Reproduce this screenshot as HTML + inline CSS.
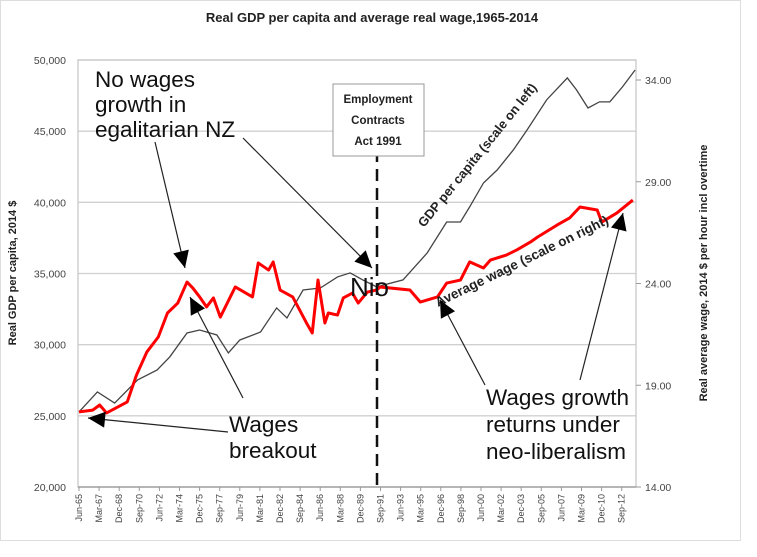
<!DOCTYPE html>
<html><head><meta charset="utf-8"><style>
html,body{margin:0;padding:0;background:#fff;}
svg{display:block;font-family:"Liberation Sans",sans-serif;}
</style></head><body>
<svg id="chart" width="757" height="557" viewBox="0 0 757 557">
<rect x="0.5" y="0.5" width="740" height="540" fill="#fff" stroke="#ddd"/>
<text x="372" y="22" text-anchor="middle" font-size="13" font-weight="bold" fill="#222">Real GDP per capita and average real wage,1965-2014</text>
<g id="grid"></g>
<g id="leftTicks"></g>
<g id="rightTicks"></g>
<g id="xTicks"></g>
<text transform="translate(16,273) rotate(-90)" text-anchor="middle" font-size="11" font-weight="bold" fill="#222">Real GDP per capita, 2014 $</text>
<text transform="translate(707,273) rotate(-90)" text-anchor="middle" font-size="11" font-weight="bold" fill="#222">Real average wage, 2014 $ per hour incl overtime</text>
<line x1="377" y1="150" x2="377" y2="487" stroke="#111" stroke-width="2.5" stroke-dasharray="12,7"/>
<g id="series"></g>
<rect x="333" y="84" width="91" height="72" fill="#fff" stroke="#999"/>
<text font-size="11.5" font-weight="bold" fill="#222" text-anchor="middle"><tspan x="378" y="103">Employment</tspan><tspan x="378" y="124">Contracts</tspan><tspan x="378" y="145">Act 1991</tspan></text>
<text transform="translate(424,228) rotate(-51)" font-size="13" font-weight="bold" fill="#222">GDP per capita (scale on left)</text>
<text transform="translate(438,307) rotate(-26)" font-size="13.5" font-weight="bold" fill="#222">Average wage (scale on right)</text>
<g font-size="22.5" fill="#111">
<text><tspan x="95" y="87">No wages</tspan><tspan x="95" y="112">growth in</tspan><tspan x="95" y="137">egalitarian NZ</tspan></text>
<text x="350" y="296" font-size="26">Nio</text>
<text><tspan x="229" y="432">Wages</tspan><tspan x="229" y="458">breakout</tspan></text>
<text><tspan x="486" y="405">Wages growth</tspan><tspan x="486" y="432">returns under</tspan><tspan x="486" y="459">neo-liberalism</tspan></text>
</g>
<g id="arrows" stroke="#222" stroke-width="1.2" fill="none"></g>
</svg>
<script>
const gdpYears=[1965.5,1967.1,1968.6,1970.6,1972.3,1973.4,1974.9,1976.0,1977.5,1978.5,1979.5,1981.3,1982.7,1983.6,1985.0,1986.5,1988.0,1989.1,1990.2,1991.4,1993.7,1995.8,1997.5,1998.7,1999.5,2000.7,2001.9,2003.3,2004.5,2006.2,2008.0,2008.8,2009.8,2010.8,2011.7,2012.8,2013.9];
const gdpValues=[25270,26680,25900,27520,28220,29140,30820,31030,30680,29420,30330,30890,32580,31880,33840,33980,34760,35040,34550,34060,34550,36440,38620,38620,39680,41360,42280,43680,45090,47200,48740,47900,46630,47060,47060,48110,49300];
const wageYears=[1965.5,1966.7,1967.3,1967.9,1969.7,1970.5,1971.4,1972.4,1973.2,1974.1,1974.9,1975.4,1976.0,1976.6,1977.2,1977.8,1979.1,1980.6,1981.1,1982.0,1982.4,1983.0,1984.1,1985.3,1985.8,1986.3,1986.9,1987.2,1988.0,1988.5,1989.3,1989.8,1990.6,1991.4,1991.7,1994.3,1995.2,1996.7,1997.5,1998.7,1999.5,2000.7,2001.3,2002.7,2003.6,2004.8,2005.4,2007.1,2008.2,2009.1,2010.6,2011.0,2012.3,2013.7];
const wageValues=[17.69,17.78,18.03,17.64,18.18,19.5,20.63,21.37,22.55,23.04,24.07,23.78,23.34,22.85,23.29,22.35,23.83,23.34,25.01,24.66,25.06,23.68,23.34,22.06,21.57,24.17,22.06,22.55,22.45,23.29,23.53,23.04,23.58,23.68,23.83,23.68,23.09,23.34,24.02,24.17,25.06,24.76,25.15,25.4,25.65,26.04,26.28,26.87,27.22,27.76,27.61,27.02,27.46,28.1];
const leftTickValues=[20000,25000,30000,35000,40000,45000,50000];
const leftTickLabels=["20,000","25,000","30,000","35,000","40,000","45,000","50,000"];
const rightTickValues=[14,19,24,29,34];
const rightTickLabels=["14.00","19.00","24.00","29.00","34.00"];
const xTickLabels=["Jun-65","Mar-67","Dec-68","Sep-70","Jun-72","Mar-74","Dec-75","Sep-77","Jun-79","Mar-81","Dec-82","Sep-84","Jun-86","Mar-88","Dec-89","Sep-91","Jun-93","Mar-95","Dec-96","Sep-98","Jun-00","Mar-02","Dec-03","Sep-05","Jun-07","Mar-09","Dec-10","Sep-12"];

const NS="http://www.w3.org/2000/svg";
const PL=78,PR=636,PT=60,PB=487;
const xOf=yr=>79+(yr-1965.5)*11.49;
const yL=v=>PB-(v-20000)*(PB-PT)/30000;
const yR=v=>PB-(v-14)*20.35;
function mk(tag,attrs,parent){const e=document.createElementNS(NS,tag);for(const k in attrs)e.setAttribute(k,attrs[k]);parent.appendChild(e);return e;}
const grid=document.getElementById('grid');
leftTickValues.forEach((v,i)=>{
  const g=mk('line',{x1:PL,x2:PR,y1:yL(v),y2:yL(v),stroke:'#d0d0d0','stroke-width':1.3},grid);
  
  
  const t=mk('text',{x:66,y:yL(v)+4,'text-anchor':'end','font-size':10.5,fill:'#444'},document.getElementById('leftTicks'));
  t.textContent=leftTickLabels[i];
  
  
});
mk('rect',{x:PL,y:PT,width:PR-PL,height:PB-PT,fill:'none',stroke:'#c8c8c8','stroke-width':1.3},grid);
rightTickValues.forEach((v,i)=>{
  mk('line',{x1:PR,x2:PR+5,y1:yR(v),y2:yR(v),stroke:'#999'},document.getElementById('rightTicks'));
  const t=mk('text',{x:645,y:yR(v)+4,'font-size':10.5,fill:'#444'},document.getElementById('rightTicks'));
  t.textContent=rightTickLabels[i];
  
  
});
const xt=document.getElementById('xTicks');
mk('line',{x1:PL,x2:PR,y1:PB,y2:PB,stroke:'#999','stroke-width':1.3},xt);
xTickLabels.forEach((lab,i)=>{
  const x=79+i*20.1;
  mk('line',{x1:x,x2:x,y1:PB,y2:PB+4,stroke:'#999'},xt);
  const t=mk('text',{transform:`translate(${x+3},${PB+7}) rotate(-90)`,'text-anchor':'end','font-size':9,fill:'#444'},xt);
  t.textContent=lab;
  
  
});
const ser=document.getElementById('series');
const gp=mk('polyline',{points:gdpYears.map((y,i)=>xOf(y)+','+yL(gdpValues[i])).join(' '),fill:'none',stroke:'#444','stroke-width':1.3},ser);


const wp=mk('polyline',{points:wageYears.map((y,i)=>xOf(y)+','+yR(wageValues[i])).join(' '),fill:'none',stroke:'#f00','stroke-width':3,'stroke-linejoin':'round'},ser);


const ar=document.getElementById('arrows');
[[155,142,185,268],[243,138,372,268],[243,398,190,297],[228,432,88,418],[485,385,440,300],[580,380,623,213]].forEach(a=>{
  const l=mk('line',{x1:a[0],y1:a[1],x2:a[2],y2:a[3]},ar);
  
  
  const dx=a[2]-a[0],dy=a[3]-a[1],L=Math.hypot(dx,dy),ux=dx/L,uy=dy/L,s=17,w=8;
  const bx=a[2]-ux*s,by=a[3]-uy*s;
  const h=mk('polygon',{points:`${a[2]},${a[3]} ${bx-uy*w},${by+ux*w} ${bx+uy*w},${by-ux*w}`,fill:'#000',stroke:'none'},ar);
  
  
});
</script>
</body></html>
